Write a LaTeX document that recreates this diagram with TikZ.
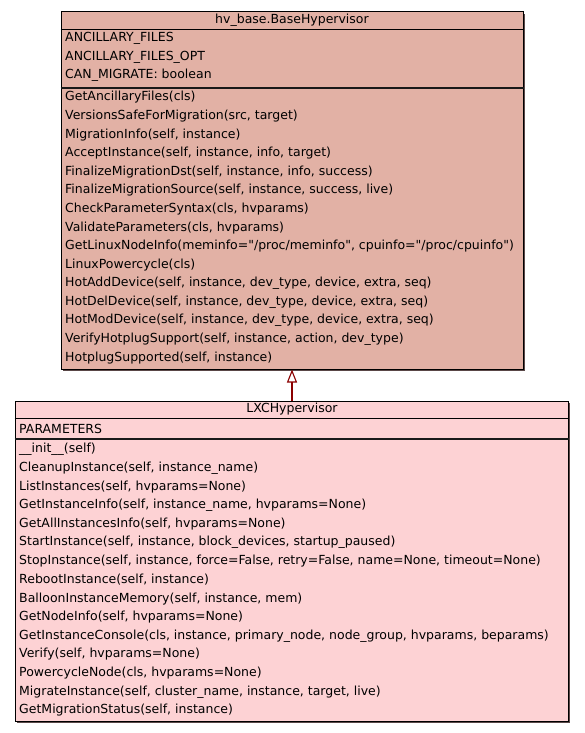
\documentclass[tikz,border=0pt]{standalone}
\usepackage{fontspec}
\setmainfont{DejaVu Sans}[Ligatures=TeXOff]
\usetikzlibrary{arrows.meta}
\definecolor{basefill}{HTML}{E2B1A5}
\definecolor{lxcfill}{HTML}{FDD2D4}
\definecolor{edgecol}{HTML}{8B0000}
\definecolor{shadowcol}{HTML}{5A4848}
\begin{document}
\begin{tikzpicture}[x=1pt,y=-1pt,
  txt/.style={anchor=west,inner sep=0pt,font=\fontsize{12.5}{14}\selectfont,text=black},
  ttl/.style={inner sep=0pt,font=\fontsize{12.5}{14}\selectfont,text=black},
  umlbox/.style={draw=black,line width=1pt,inner sep=0pt},
  sep/.style={line width=1.4pt,draw=black!90}
]
\useasboundingbox[fill=white] (0,0) rectangle (584,733);
% shadows
\fill[shadowcol] (63,14) rectangle (524.5,370.5);
\fill[shadowcol] (17,403) rectangle (569.5,722.5);
% boxes
\node[umlbox,fill=basefill,minimum width=462pt,minimum height=357pt] (base) at (292,190.5) {};
\node[umlbox,fill=lxcfill,minimum width=553pt,minimum height=320pt] (lxc) at (291.5,561) {};
% separators
\draw[line width=0.8pt] (base.west |- 0,29) -- (base.east |- 0,29);
\draw[sep] (base.west |- 0,88) -- (base.east |- 0,88);
\draw[line width=0.8pt] (lxc.west |- 0,418) -- (lxc.east |- 0,418);
\draw[sep] (lxc.west |- 0,439) -- (lxc.east |- 0,439);
% base texts
\node[ttl] (bt) at (292,20.5) {hv\_base.BaseHypervisor};
\node[txt] (ba1) at (65,38.5) {ANCILLARY\_FILES};
\node[txt] (ba2) at (65,57) {ANCILLARY\_FILES\_OPT};
\node[txt] (ba3) at (65,75.5) {CAN\_MIGRATE: boolean};
\foreach \t [count=\i from 0] in {
 {GetAncillaryFiles(cls)},
 {VersionsSafeForMigration(src, target)},
 {MigrationInfo(self, instance)},
 {AcceptInstance(self, instance, info, target)},
 {FinalizeMigrationDst(self, instance, info, success)},
 {FinalizeMigrationSource(self, instance, success, live)},
 {CheckParameterSyntax(cls, hvparams)},
 {ValidateParameters(cls, hvparams)},
 {GetLinuxNodeInfo(meminfo="/proc/meminfo", cpuinfo="/proc/cpuinfo")},
 {LinuxPowercycle(cls)},
 {HotAddDevice(self, instance, dev\_type, device, extra, seq)},
 {HotDelDevice(self, instance, dev\_type, device, extra, seq)},
 {HotModDevice(self, instance, dev\_type, device, extra, seq)},
 {VerifyHotplugSupport(self, instance, action, dev\_type)},
 {HotplugSupported(self, instance)}}
 {\node[txt] (bm\i) at (65,97.5+18.6*\i) {\t};}
% lxc texts
\node[ttl] (lt) at (292,409.5) {LXCHypervisor};
\node[txt] (la1) at (19,428.5) {PARAMETERS};
\foreach \t [count=\i from 0] in {
 {\_\_init\_\_(self)},
 {CleanupInstance(self, instance\_name)},
 {ListInstances(self, hvparams=None)},
 {GetInstanceInfo(self, instance\_name, hvparams=None)},
 {GetAllInstancesInfo(self, hvparams=None)},
 {StartInstance(self, instance, block\_devices, startup\_paused)},
 {StopInstance(self, instance, force=False, retry=False, name=None, timeout=None)},
 {RebootInstance(self, instance)},
 {BalloonInstanceMemory(self, instance, mem)},
 {GetNodeInfo(self, hvparams=None)},
 {GetInstanceConsole(cls, instance, primary\_node, node\_group, hvparams, beparams)},
 {Verify(self, hvparams=None)},
 {PowercycleNode(cls, hvparams=None)},
 {MigrateInstance(self, cluster\_name, instance, target, live)},
 {GetMigrationStatus(self, instance)}}
 {\node[txt] (lm\i) at (19,449.5+18.64*\i) {\t};}
% inheritance arrow
\draw[edgecol,line width=2.3pt,-{Triangle[open,width=10pt,length=13pt,line width=1.1pt]}] (lxc.north -| base.south) -- (base.south);
\end{tikzpicture}
\end{document}
